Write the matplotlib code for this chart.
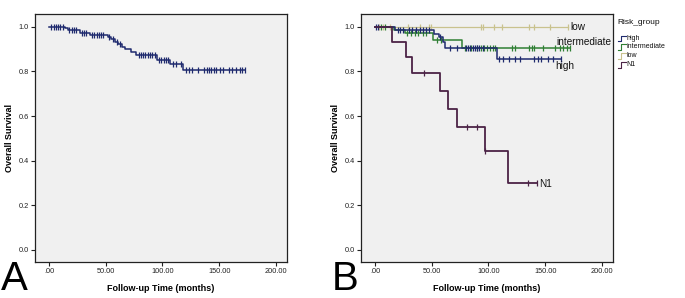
#!/usr/bin/env python3

import numpy as np
import matplotlib
matplotlib.use("Agg")
import matplotlib.pyplot as plt
from matplotlib.lines import Line2D

plt.rcParams["font.family"] = ["Liberation Sans", "DejaVu Sans"]

# Panel A: all patients
a_times = [0, 14, 17, 27, 36, 52, 55, 58, 61, 64, 67, 72, 77, 95, 107, 118]
a_surv = [1.0, 0.993, 0.986, 0.972, 0.964, 0.955, 0.945, 0.934, 0.922, 0.911, 0.9, 0.888, 0.873, 0.853, 0.833, 0.806]
a_censor = [2, 4, 6, 8, 10, 12, 18, 20, 22, 24, 29, 31, 33, 38, 40, 42, 44, 46, 48,
            53, 56, 60, 63, 79, 81, 83, 85, 87, 89, 91, 93, 97, 99, 101, 103, 105,
            109, 112, 116, 121, 123, 126, 131, 137, 139, 141, 143, 145, 147, 151,
            153, 159, 161, 165, 168, 170, 173]

# Panel B: by risk group
high_times = [0, 17.6, 52, 56, 60, 62, 107.8]
high_surv = [1.0, 0.985, 0.966, 0.955, 0.93, 0.903, 0.854]
high_censor = [1, 3, 20, 22, 25, 30, 33, 36, 40, 42, 45, 48, 57, 66, 72, 80, 82, 84,
               86, 88, 90, 92, 95, 109, 113, 118, 123, 128, 140, 144, 146, 152, 157, 164]

inter_times = [0, 17, 26.5, 51, 77]
inter_surv = [1.0, 0.986, 0.972, 0.943, 0.903]
inter_censor = [5, 9, 28, 32, 35, 38, 42, 45, 55, 58, 79, 85, 90, 93, 96, 99, 101,
                104, 106, 121, 123, 136, 138, 140, 148, 159, 163, 166, 169, 172]

low_times = [0]
low_surv = [1.0]
low_censor = [4, 7, 13, 29, 40, 48, 49, 93, 95, 105, 112, 136, 140, 154, 170]

n1_times = [0, 14.7, 27, 33, 57.4, 64.7, 72, 96.5, 117.6]
n1_surv = [1.0, 0.933, 0.863, 0.791, 0.712, 0.633, 0.552, 0.445, 0.299]
n1_censor = [43.5, 81.5, 89.7, 97, 135, 143]

x_ticks = [0, 50, 100, 150, 200]
x_ticklabels = [".00", "50.00", "100.00", "150.00", "200.00"]
y_ticks = [0.0, 0.2, 0.4, 0.6, 0.8, 1.0]

NAVY = "#1f2a6e"
GREEN = "#2f7f34"
TAN = "#c9c28e"
PURPLE = "#4b2346"
BG = "#f0f0f0"


def km_curve(ax, times, surv, censor, color, lw=1.1):
    t_end = max(max(times), max(censor))
    xs = list(times) + [t_end]
    ys = list(surv) + [surv[-1]]
    ax.step(xs, ys, where="post", color=color, linewidth=lw)
    idx = np.searchsorted(np.array(times), np.array(censor), side="right") - 1
    cy = np.array(surv)[idx]
    ax.plot(censor, cy, linestyle="none", marker="|", markersize=4.5,
            markeredgewidth=0.9, color=color)


def style_axes(ax):
    ax.set_facecolor(BG)
    ax.set_xlim(-12.3, 209.7)
    ax.set_ylim(-0.054, 1.057)
    ax.set_xticks(x_ticks)
    ax.set_xticklabels(x_ticklabels)
    ax.set_yticks(y_ticks)
    ax.set_yticklabels([f"{v:.1f}" for v in y_ticks])
    ax.tick_params(direction="out", length=3, width=0.8, labelsize=5.3,
                   colors="#222222", pad=1.5)
    for s in ax.spines.values():
        s.set_linewidth(0.9)
        s.set_color("#222222")
    ax.set_xlabel("Follow-up Time (months)", fontsize=6.5, fontweight="bold",
                  labelpad=6)
    ax.set_ylabel("Overall Survival", fontsize=6.5, fontweight="bold",
                  labelpad=3)


fig = plt.figure(figsize=(6.85, 2.98), dpi=100)
ax_a = fig.add_axes([0.0511, 0.1208, 0.3679, 0.832])
ax_b = fig.add_axes([0.527, 0.1208, 0.3679, 0.832])

style_axes(ax_a)
km_curve(ax_a, a_times, a_surv, a_censor, NAVY)

style_axes(ax_b)
km_curve(ax_b, low_times, low_surv, low_censor, TAN, lw=0.9)
km_curve(ax_b, inter_times, inter_surv, inter_censor, GREEN)
km_curve(ax_b, high_times, high_surv, high_censor, NAVY)
km_curve(ax_b, n1_times, n1_surv, n1_censor, PURPLE, lw=1.3)

lab_kw = dict(fontsize=7.2, color="#111111", va="center")
ax_b.text(172, 1.0, "low", ha="left", **lab_kw)
ax_b.text(160, 0.933, "intermediate", ha="left", **lab_kw)
ax_b.text(159, 0.824, "high", ha="left", **lab_kw)
ax_b.text(145, 0.296, "N1", ha="left", **lab_kw)

# legend to the right of panel B
fig.text(617.5 / 685, 1 - 23 / 298, "Risk_group", fontsize=6, va="center",
         ha="left", color="#111111")
leg_items = [("high", NAVY), ("intermediate", GREEN), ("low", TAN), ("N1", PURPLE)]
for i, (name, col) in enumerate(leg_items):
    yp = 1 - (38 + 9 * i) / 298
    x0 = 617.5 / 685
    dx = 3.5 / 685
    dy = 2.5 / 298
    fig.add_artist(Line2D([x0, x0 + dx, x0 + dx, x0 + 2.4 * dx],
                          [yp - dy, yp - dy, yp + dy, yp + dy],
                          transform=fig.transFigure, color=col, linewidth=0.8))
    fig.text(x0 + 2.6 * dx, yp, name, fontsize=5, va="center", ha="left",
             color="#111111")

fig.text(1 / 685, 0 / 298, "A", fontsize=29, ha="left", va="bottom")
fig.text(332 / 685, 0 / 298, "B", fontsize=29, ha="left", va="bottom")

fig.savefig("out.png", dpi=100, facecolor="white")
